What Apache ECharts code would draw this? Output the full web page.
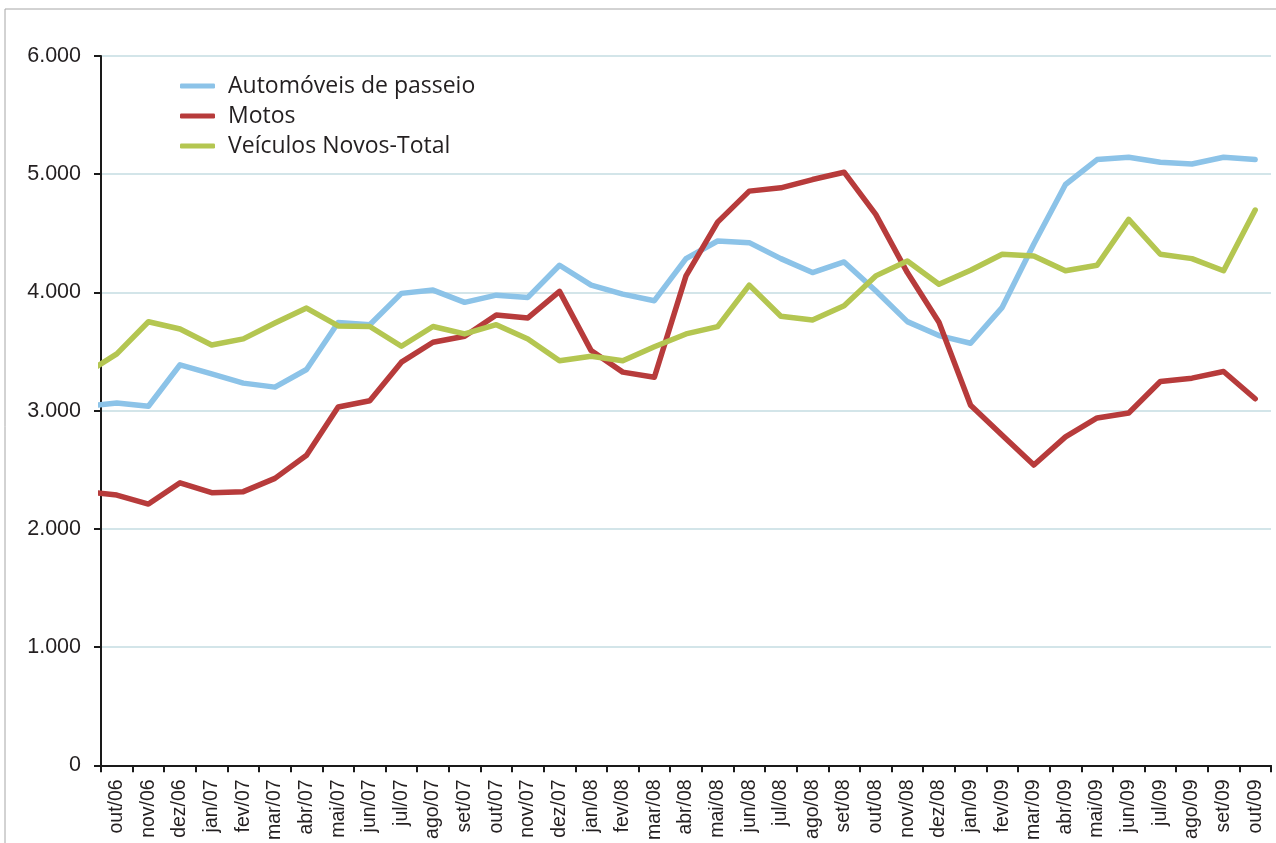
<!DOCTYPE html>
<html>
<head>
<meta charset="utf-8">
<script src="https://cdn.jsdelivr.net/npm/echarts@6/dist/echarts.min.js"></script>
<style>
html,body{margin:0;padding:0;background:#fff;}
#chart{width:1276px;height:843px;}
</style>
</head>
<body>
<div id="chart"></div>
<script>
// Months; the first entry (set/06) lies just outside the axis range, only its segment toward out/06 is visible
const categories = ['set/06','out/06','nov/06','dez/06','jan/07','fev/07','mar/07','abr/07','mai/07','jun/07','jul/07','ago/07','set/07','out/07','nov/07','dez/07','jan/08','fev/08','mar/08','abr/08','mai/08','jun/08','jul/08','ago/08','set/08','out/08','nov/08','dez/08','jan/09','fev/09','mar/09','abr/09','mai/09','jun/09','jul/09','ago/09','set/09','out/09'];

const automoveis = [3037,3065,3037,3388,3312,3233,3199,3348,3745,3727,3992,4020,3916,3977,3958,4230,4062,3986,3930,4286,4435,4421,4286,4168,4258,4014,3753,3635,3570,3874,4410,4913,5124,5143,5101,5087,5143,5124];

const motos = [2314,2286,2210,2390,2306,2315,2427,2623,3031,3084,3410,3579,3630,3809,3784,4009,3508,3326,3283,4140,4595,4857,4885,4955,5017,4660,4168,3747,3045,2792,2540,2778,2938,2980,3247,3275,3331,3101];

const veiculos = [3312,3480,3752,3691,3556,3607,3741,3868,3717,3712,3545,3712,3649,3727,3607,3422,3460,3422,3540,3649,3711,4062,3798,3767,3887,4140,4266,4070,4188,4323,4309,4183,4230,4618,4323,4286,4183,4697];

const seriesNames = ['Automóveis de passeio','Motos','Veículos Novos-Total'];
const yTicks = [0,1000,2000,3000,4000,5000,6000];

const colors = ['#8cc3e8','#b73b3b','#b4c651'];
const textColor = '#231f20';

const chart = echarts.init(document.getElementById('chart'));
const mk = (name, data, color) => ({
  name: name,
  type: 'line',
  data: data,
  showSymbol: false,
  symbol: 'none',
  clip: true,
  lineStyle: {color: color, width: 5.5, cap: 'round', join: 'round'},
  itemStyle: {color: color},
  emphasis: {disabled: true},
  animation: false
});

chart.setOption({
  animation: false,
  graphic: [{
    type: 'rect',
    shape: {x: 5, y: 9, width: 1400, height: 1000},
    style: {fill: 'none', stroke: '#a6a6a6', lineWidth: 1},
    silent: true
  }],
  grid: {left: 101, top: 56, right: 5, bottom: 75, containLabel: false},
  legend: {
    orient: 'vertical',
    left: 175,
    top: 69,
    icon: 'roundRect',
    itemWidth: 35,
    itemHeight: 5,
    itemGap: 6,
    data: seriesNames,
    textStyle: {fontFamily: 'Open Sans', fontSize: 23, color: textColor, padding: [0,0,0,8], lineHeight: 24}
  },
  xAxis: {
    type: 'category',
    data: categories,
    min: 1,
    max: categories.length - 1,
    boundaryGap: true,
    axisLine: {show: true, lineStyle: {color: '#1a1a1a', width: 2}},
    axisTick: {show: true, length: 7, lineStyle: {color: '#1a1a1a', width: 2}, interval: 0},
    axisLabel: {interval: 0, rotate: 90, margin: 14, fontFamily: 'Liberation Sans', fontSize: 19.5, color: textColor},
    splitLine: {show: false}
  },
  yAxis: {
    type: 'value',
    min: yTicks[0],
    max: yTicks[yTicks.length - 1],
    interval: 1000,
    axisLine: {show: true, lineStyle: {color: '#1a1a1a', width: 2}},
    axisTick: {show: true, length: 7, lineStyle: {color: '#1a1a1a', width: 2}},
    axisLabel: {
      margin: 20, fontFamily: 'Liberation Sans', fontSize: 21.5, color: textColor,
      formatter: v => v === 0 ? '0' : (v / 1000) + '.000'
    },
    splitLine: {show: true, lineStyle: {color: '#d3e5e9', width: 2}}
  },
  series: [
    mk(seriesNames[0], automoveis, colors[0]),
    mk(seriesNames[1], motos, colors[1]),
    mk(seriesNames[2], veiculos, colors[2])
  ]
});
</script>
</body>
</html>
